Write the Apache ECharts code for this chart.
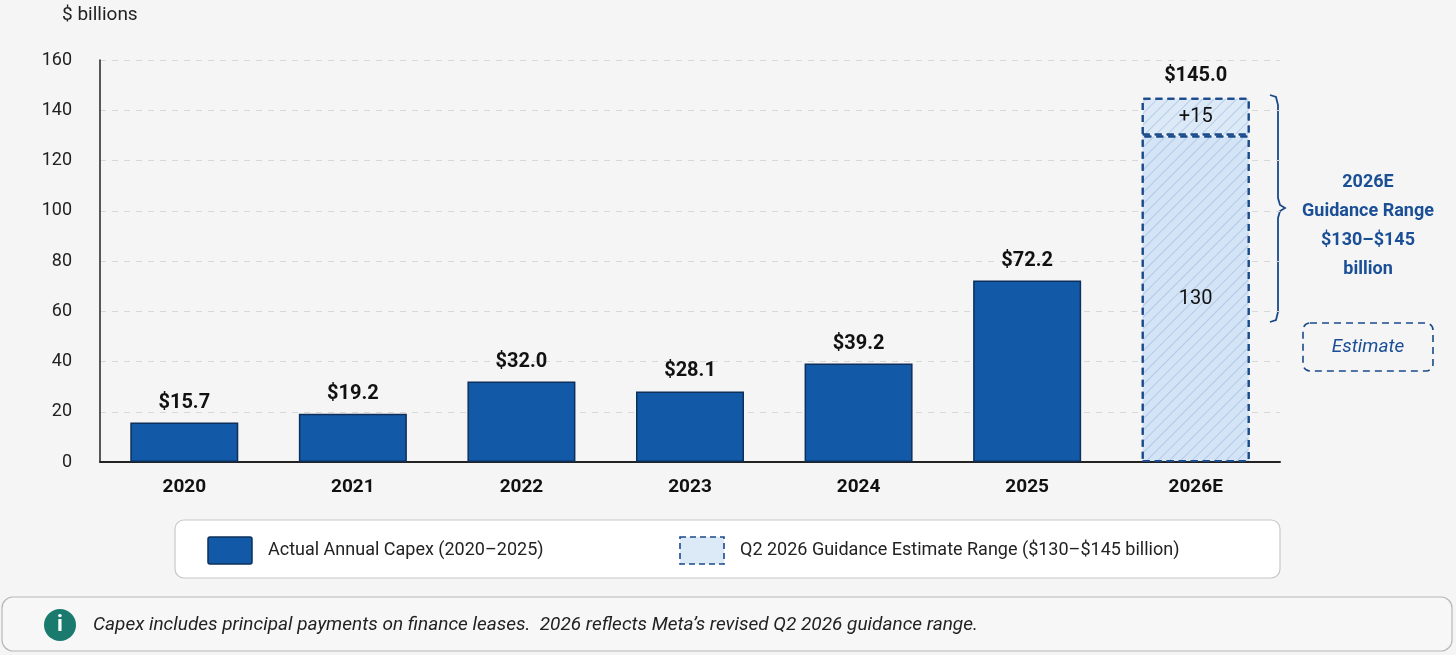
<!DOCTYPE html>
<html>
<head>
<meta charset="utf-8">
<script src="https://cdn.jsdelivr.net/npm/echarts@6/dist/echarts.min.js"></script>
<style>
  html, body { margin: 0; padding: 0; background: #f5f5f5; }
  #chart { width: 1456px; height: 655px; }
</style>
</head>
<body>
<div id="chart"></div>
<script>
// categories and values
var years = ['2020', '2021', '2022', '2023', '2024', '2025', '2026E'];
var actual = [15.7, 19.2, 32.0, 28.1, 39.2, 72.2, '-'];
var guideLow = ['-', '-', '-', '-', '-', '-', 130];
var guideAdd = ['-', '-', '-', '-', '-', '-', 15];
var yTicks = [0, 20, 40, 60, 80, 100, 120, 140, 160];

var font = 'Roboto, "Noto Sans", sans-serif';
var blue = '#1259a8';
var navy = '#1a4a8a';

var hatch = {
    symbol: 'rect',
    color: 'rgba(120,150,200,0.35)',
    dashArrayX: [1, 0],
    dashArrayY: [1, 7],
    rotation: -Math.PI / 4
};

var chart = echarts.init(document.getElementById('chart'));

chart.setOption({
    backgroundColor: '#f5f5f5',
    animation: false,
    grid: { left: 100, right: 176, top: 60, bottom: 193 },
    xAxis: {
        type: 'category',
        data: years,
        axisLine: { lineStyle: { color: '#222', width: 2 } },
        axisTick: { show: false },
        axisLabel: { color: '#111', fontSize: 19, fontWeight: 'bold', fontFamily: font, margin: 16 }
    },
    yAxis: {
        type: 'value',
        min: yTicks[0],
        max: yTicks[yTicks.length - 1],
        interval: 20,
        axisLine: { show: true, lineStyle: { color: '#222', width: 1.5 } },
        splitLine: { lineStyle: { color: '#d8d8d8', type: [6, 6] } },
        axisLabel: { color: '#222', fontSize: 18, fontFamily: font, margin: 28 }
    },
    series: [
        {
            name: 'Actual Annual Capex (2020–2025)',
            type: 'bar',
            stack: 'capex',
            barWidth: 108,
            data: actual,
            itemStyle: { color: blue, borderColor: '#0d2f5a', borderWidth: 1.5 },
            label: {
                show: true, position: 'top', distance: 10,
                formatter: function (p) { return '$' + p.value.toFixed(1); },
                color: '#111', fontSize: 20, fontWeight: 'bold', fontFamily: font
            }
        },
        {
            name: 'Guidance low',
            type: 'bar',
            stack: 'capex',
            data: guideLow,
            itemStyle: { color: '#d3e4f6', borderColor: navy, borderWidth: 2, borderType: [7, 5], decal: hatch },
            label: {
                show: true, position: 'inside',
                formatter: function (p) { return String(p.value); },
                color: '#111', fontSize: 20, fontFamily: font
            }
        },
        {
            name: 'Guidance add',
            type: 'bar',
            stack: 'capex',
            data: guideAdd,
            itemStyle: { color: '#dceaf8', borderColor: navy, borderWidth: 2, borderType: [7, 5], decal: hatch },
            label: {
                show: true, position: 'inside',
                formatter: function (p) { return '+' + p.value; },
                color: '#111', fontSize: 20, fontFamily: font
            }
        },
        {
            // total label above the estimate bar
            type: 'bar',
            stack: 'capex',
            data: ['-', '-', '-', '-', '-', '-', 0.001],
            itemStyle: { color: 'transparent' },
            label: {
                show: true, position: 'top', distance: 12,
                formatter: '$145.0',
                color: '#111', fontSize: 20, fontWeight: 'bold', fontFamily: font
            }
        }
    ],
    graphic: [
        { type: 'text', left: 62, top: 6, style: { text: '$ billions', fontSize: 19, fill: '#222', fontFamily: font } },
        {
            type: 'polyline',
            shape: { points: [[1270, 95], [1276, 97], [1278, 105], [1278, 198], [1280, 205], [1285, 208], [1280, 211], [1278, 218], [1278, 312], [1276, 320], [1270, 322]] },
            style: { fill: null, stroke: navy, lineWidth: 1.8 }
        },
        {
            type: 'text', x: 1368, y: 168,
            style: {
                text: '2026E\nGuidance Range\n$130–$145\nbillion',
                align: 'center', lineHeight: 29, fontSize: 18, fontWeight: 'bold',
                fill: '#1a4f96', fontFamily: font
            }
        },
        {
            type: 'rect',
            shape: { x: 1303, y: 323, width: 130, height: 48, r: 7 },
            style: { fill: 'none', stroke: navy, lineWidth: 1.6, lineDash: [7, 5] }
        },
        {
            type: 'text', x: 1368, y: 347,
            style: { text: 'Estimate', align: 'center', verticalAlign: 'middle', fontSize: 19, fontStyle: 'italic', fill: '#1a4f96', fontFamily: font }
        },
        // legend box
        {
            type: 'rect',
            shape: { x: 175, y: 520, width: 1105, height: 58, r: 9 },
            style: { fill: '#fff', stroke: '#c8c8c8', lineWidth: 1.2 }
        },
        {
            type: 'rect',
            shape: { x: 208, y: 537, width: 44, height: 27, r: 2 },
            style: { fill: blue, stroke: '#0d2f5a', lineWidth: 1.5 }
        },
        {
            type: 'text', x: 268, y: 550,
            style: { text: 'Actual Annual Capex (2020–2025)', verticalAlign: 'middle', fontSize: 18, fill: '#222', fontFamily: font }
        },
        {
            type: 'rect',
            shape: { x: 680, y: 537, width: 44, height: 27 },
            style: { fill: '#dceaf8', stroke: navy, lineWidth: 1.6, lineDash: [6, 4] }
        },
        {
            type: 'text', x: 740, y: 550,
            style: { text: 'Q2 2026 Guidance Estimate Range ($130–$145 billion)', verticalAlign: 'middle', fontSize: 18, fill: '#222', fontFamily: font }
        },
        // footnote
        {
            type: 'rect',
            shape: { x: 2, y: 597, width: 1450, height: 54, r: 11 },
            style: { fill: '#f7f7f7', stroke: '#b8b8b8', lineWidth: 1.2 }
        },
        { type: 'circle', shape: { cx: 60, cy: 625, r: 16 }, style: { fill: '#1a7a6e' } },
        {
            type: 'text', x: 60, y: 625,
            style: { text: 'i', align: 'center', verticalAlign: 'middle', fontSize: 22, fontWeight: 'bold', fill: '#fff', fontFamily: font }
        },
        {
            type: 'text', x: 93, y: 625,
            style: {
                text: 'Capex includes principal payments on finance leases.  2026 reflects Meta’s revised Q2 2026 guidance range.',
                verticalAlign: 'middle', fontSize: 19, fontStyle: 'italic', fill: '#222', fontFamily: font
            }
        }
    ]
});
</script>
</body>
</html>
